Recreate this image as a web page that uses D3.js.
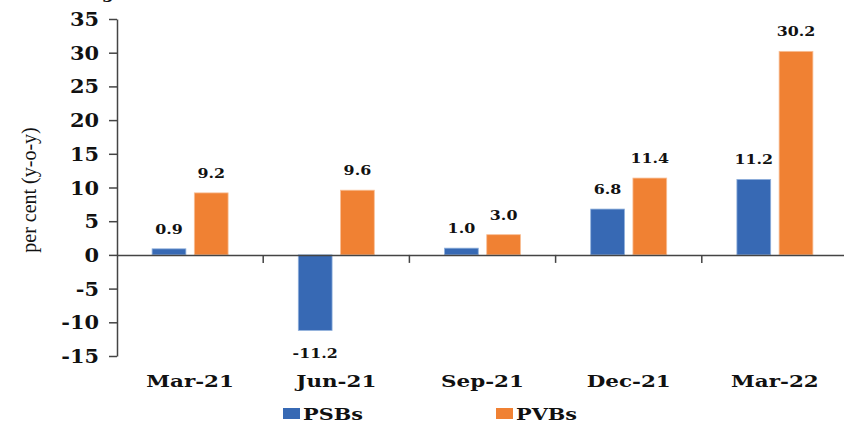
<!DOCTYPE html>
<html><head><meta charset="utf-8">
<script src="https://cdn.jsdelivr.net/npm/d3@7/dist/d3.min.js"></script>
<style>body{margin:0;background:#fff}svg{display:block}</style>
</head><body><svg id="c" width="844" height="423"></svg>
<script>
const categories = ["Mar-21","Jun-21","Sep-21","Dec-21","Mar-22"];
const seriesNames = ["PSBs","PVBs"];
const psbValues = [0.9, -11.2, 1.0, 6.8, 11.2];
const pvbValues = [9.2, 9.6, 3.0, 11.4, 30.2];
const yTicks = [-15,-10,-5,0,5,10,15,20,25,30,35];
const yTitle = "per cent (y-o-y)";
const chartTitle = "Credit growth";

const colors = {PSBs:"#3769b4", PVBs:"#f08133"};
const axisColor = "#444";
const FONT = "'DejaVu Serif', serif";
const svg = d3.select("#c");

const x0 = d3.scaleBand().domain(categories).range([117, 848]).padding(0);
const x1 = d3.scaleBand().domain(seriesNames).range([-38, 38]).paddingInner(0.2);
const y = d3.scaleLinear().domain([-15, 35]).range([356, 19]);

function stxt(g, x, yy, s, sx, anchor, size, weight){
  return g.append("text").attr("transform", `translate(${x},${yy}) scale(${sx},1)`)
    .attr("text-anchor", anchor).attr("font-family", FONT).attr("font-size", size)
    .attr("font-weight", weight).attr("fill", "#111").text(s);
}

// clipped title (only descender visible, as in the reference)
stxt(svg, 34, -2, chartTitle, 1.1, "start", 16, "bold");

const data = categories.map((c,i)=>({cat:c, vals:[{s:"PSBs",v:psbValues[i]},{s:"PVBs",v:pvbValues[i]}]}));

// bars
const groups = svg.append("g").selectAll("g").data(data).join("g")
  .attr("transform", d=>`translate(${x0(d.cat)+x0.bandwidth()/2},0)`);
groups.selectAll("rect").data(d=>d.vals).join("rect")
  .attr("x", d=>x1(d.s)).attr("width", x1.bandwidth())
  .attr("y", d=>y(Math.max(0,d.v))).attr("height", d=>Math.abs(y(d.v)-y(0)))
  .attr("fill", d=>colors[d.s]).attr("stroke", d=>d.s==="PSBs"?"#8fb0dc":"#f8bf96").attr("stroke-width",0.8);

// value labels
groups.each(function(d){
  const g = d3.select(this);
  d.vals.forEach(o=>{
    const cx = x1(o.s)+x1.bandwidth()/2;
    const yy = o.v>=0 ? y(o.v)-15 : y(o.v)+28;
    stxt(g, cx, yy, o.v.toFixed(1), 1.22, "middle", 13, "bold");
  });
});

// y axis
const yAxis = d3.axisLeft(y).tickValues(yTicks).tickSize(8).tickSizeOuter(0).tickFormat(d3.format("d"));
const gy = svg.append("g").attr("transform","translate(117,0)").call(yAxis);
gy.select(".domain").attr("stroke", axisColor).attr("stroke-width",1.5);
gy.selectAll(".tick line").attr("stroke", axisColor).attr("stroke-width",1.5);
gy.selectAll(".tick text").remove();
yTicks.forEach(t=>{
  stxt(svg, 99, y(t)+7, String(t), 1.1, "end", 19, "bold");
});

// x axis at zero
const xAxis = d3.axisBottom(x0).tickSize(0).tickSizeOuter(0).tickFormat("");
const gx = svg.append("g").attr("transform",`translate(0,${y(0)})`).call(xAxis);
gx.select(".domain").attr("stroke", axisColor).attr("stroke-width",1.5);
// boundary ticks
gx.selectAll("line.bt").data(categories.slice(1)).join("line").attr("class","bt")
  .attr("x1", d=>x0(d)).attr("x2", d=>x0(d)).attr("y1",0).attr("y2",8)
  .attr("stroke", axisColor).attr("stroke-width",1.5);

// category labels
categories.forEach(c=>{
  stxt(svg, x0(c)+x0.bandwidth()/2, 387, c, 1.3, "middle", 16.5, "bold");
});

// y title
svg.append("text").attr("transform","translate(36,190) rotate(-90)")
  .attr("text-anchor","middle").attr("font-family", "'Liberation Serif', serif")
  .attr("font-size",20).attr("fill","#111").text(yTitle);

// legend
const legend = [{s:"PSBs", x:283},{s:"PVBs", x:496}];
legend.forEach(l=>{
  svg.append("rect").attr("x", l.x).attr("y", 408).attr("width",17).attr("height",11).attr("fill", colors[l.s]);
  stxt(svg, l.x+20, 420, l.s, 1.3, "start", 16, "bold");
});
</script></body></html>
